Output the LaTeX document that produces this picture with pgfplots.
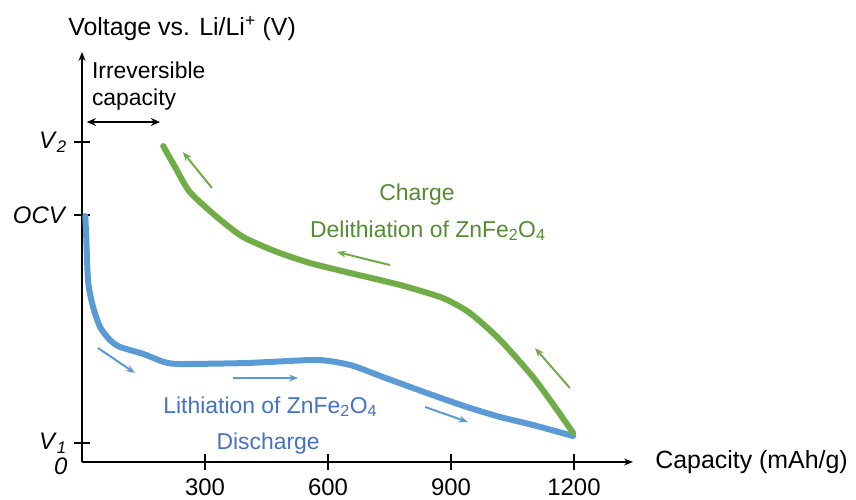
\documentclass[border=0pt]{standalone}
\usepackage{fontspec}
\setmainfont{Liberation Sans}
\usepackage{pgfplots}
\usepackage{pgfplotstable}
\pgfplotsset{compat=1.18}
\usetikzlibrary{arrows.meta}
\definecolor{gline}{RGB}{112,173,71}
\definecolor{bline}{RGB}{91,155,213}
\definecolor{gtext}{RGB}{84,140,50}
\definecolor{btext}{RGB}{68,114,196}

\pgfplotstableread{
x y
8 246
10 229
15 180
27 155
44 135
68 122
93 115
150 108
200 100
239 98
402 99
573 102
654 97
734 85
841 69
939 55
1020 45
1100 37
1198 26
}\discharge

\pgfplotstableread{
x y
1198 29
1159 52
1100 85
1020 122
946 149
880 164
776 177
654 189
556 199
476 210
393 225
329 245
263 270
227 295
198 316
}\charge

\begin{document}
\fontsize{23}{27}\selectfont
\begin{tikzpicture}
\useasboundingbox (-82bp,-38bp) rectangle (774bp,462bp);
\begin{axis}[
  at={(0,0)}, anchor=south west,
  scale only axis, width=551bp, height=410bp,
  xmin=0, xmax=1344, ymin=0, ymax=410,
  axis lines=left,
  axis line style={line width=1.3pt, -{Stealth[length=9bp,width=7bp]}},
  xtick={300,600,900,1200},
  ytick={19,247,320},
  yticklabels={\textit{V}\textsubscript{\textit{1}}, \textit{OCV}, \textit{V}\textsubscript{\textit{2}}},
  tick align=center, major tick length=15bp,
  tick style={black, line width=1.3pt},
  /pgf/number format/assume math mode=true,
  /pgf/number format/1000 sep={},
  xticklabel style={font=\fontsize{24}{28}\selectfont, yshift=-1bp},
  yticklabel style={font=\fontsize{24}{28}\selectfont},
  clip=false,
]
\addplot[bline, line width=6bp, smooth, tension=0.4, line join=round, line cap=round] table[x=x,y=y] {\discharge};
\addplot[gline, line width=6bp, smooth, tension=0.4, line join=round, line cap=round] table[x=x,y=y] {\charge};

% direction arrows
\draw[gline, line width=2bp, -{Stealth[length=9bp,width=7bp]}] (axis cs:317,274) -- (axis cs:246,310);
\draw[gline, line width=2bp, -{Stealth[length=9bp,width=7bp]}] (axis cs:751,197) -- (axis cs:622,210);
\draw[gline, line width=2bp, -{Stealth[length=9bp,width=7bp]}] (axis cs:1190,74) -- (axis cs:1105,114);
\draw[bline, line width=2bp, -{Stealth[length=9bp,width=7bp]}] (axis cs:39,114) -- (axis cs:129,89);
\draw[bline, line width=2bp, -{Stealth[length=9bp,width=7bp]}] (axis cs:368,84) -- (axis cs:527,84);
\draw[bline, line width=2bp, -{Stealth[length=9bp,width=7bp]}] (axis cs:837,55) -- (axis cs:941,40);

% irreversible capacity
\draw[black, line width=1.8bp, {Stealth[length=9bp,width=8bp]}-{Stealth[length=9bp,width=8bp]}] (axis cs:12,340) -- (axis cs:190,340);
\node[anchor=base west, inner sep=0pt] at (axis cs:24,384) {Irreversible};
\node[anchor=base west, inner sep=0pt] at (axis cs:24,357) {capacity};

% labels
\node[anchor=base west, inner sep=0pt, font=\fontsize{25}{30}\selectfont] at (axis cs:-34,427) {Voltage vs. Li/Li\textsuperscript{+} (V)};
\node[anchor=base west, inner sep=0pt, font=\fontsize{25}{30}\selectfont] at (axis cs:1398,-6) {Capacity (mAh/g)};
\node[anchor=east, inner sep=0pt, font=\fontsize{24}{28}\selectfont] at (axis cs:-35,-4) {\textit{0}};

\node[anchor=base, inner sep=0pt, text=gtext] at (axis cs:817,262) {Charge};
\node[anchor=base west, inner sep=0pt, text=gtext] at (axis cs:556,225) {Delithiation of ZnFe\textsubscript{2}O\textsubscript{4}};
\node[anchor=base west, inner sep=0pt, text=btext] at (axis cs:198,49) {Lithiation of ZnFe\textsubscript{2}O\textsubscript{4}};
\node[anchor=base, inner sep=0pt, text=btext] at (axis cs:454,13) {Discharge};
\end{axis}
\end{tikzpicture}
\end{document}
